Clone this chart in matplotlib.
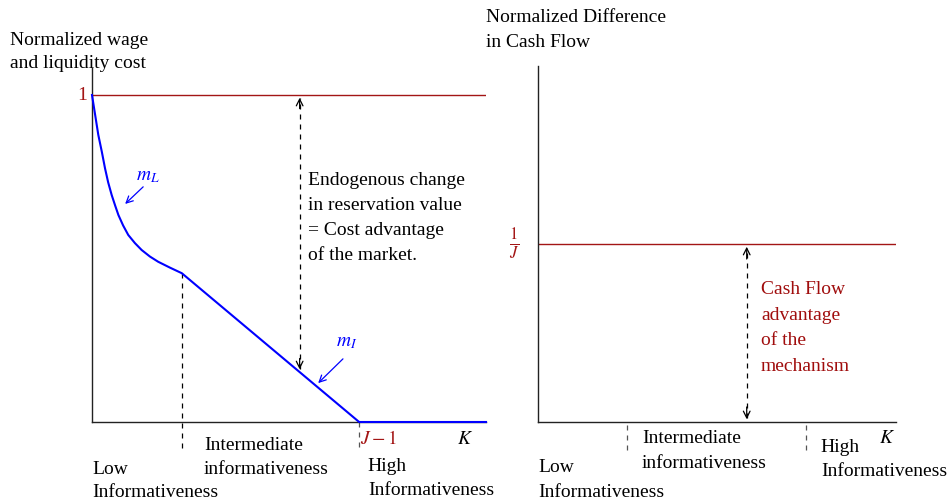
import matplotlib
matplotlib.use("Agg")
import matplotlib.pyplot as plt
from matplotlib.transforms import offset_copy

plt.rcParams['font.family'] = ['Liberation Serif', 'DejaVu Serif']
plt.rcParams['mathtext.fontset'] = 'stix'

# left panel: normalized wage / liquidity cost against K
k_curve = [0.0, 0.008, 0.016, 0.025, 0.033, 0.041, 0.050, 0.059, 0.067, 0.079, 0.092,
           0.109, 0.126, 0.147, 0.168, 0.198, 0.228, 0.678, 1.0]
cost_curve = [1.0, 0.939, 0.878, 0.826, 0.776, 0.733, 0.694, 0.661, 0.633, 0.601, 0.572,
              0.547, 0.526, 0.506, 0.490, 0.472, 0.455, 0.0, 0.0]
k_intermediate = 0.228
k_high = 0.678          # J - 1
k_arrow = 0.527
market_level = 1.0

# right panel: normalized difference in cash flow
J = 2
cash_level = 1 / J
r_ticks = [0.249, 0.749]
r_arrow = 0.583

RED = '#a31515'
BLUE = '#0000ff'
FS = 14

fig = plt.figure(figsize=(9.49, 5.01), dpi=100)
W, H = 949, 501


def box(l, t, r, b):
    return [l / W, 1 - b / H, (r - l) / W, (b - t) / H]


def lines(ax, x, y, txt, step=24, **kw):
    # one text per line so the spacing follows the reference
    for i, line in enumerate(txt.split('\n')):
        tr = offset_copy(ax.transData, fig=fig, y=-i * step, units='dots')
        ax.text(x, y, line, transform=tr, fontsize=FS, ha='left', va='center',
                clip_on=False, **kw)


def style(ax):
    for s in ['top', 'right']:
        ax.spines[s].set_visible(False)
    for s in ['left', 'bottom']:
        ax.spines[s].set_color('#222222')
        ax.spines[s].set_linewidth(1)
    ax.set_xticks([])
    ax.set_yticks([])


def double_arrow(ax, x, y0, y1):
    ax.plot([x, x], [y0 + 0.01, y1 - 0.01], 'k--', lw=0.9, dashes=(4, 4))
    ax.annotate('', xy=(x, y1), xytext=(x, y1 - 0.05),
                arrowprops=dict(arrowstyle='->', lw=0.9, color='k', mutation_scale=12))
    ax.annotate('', xy=(x, y0), xytext=(x, y0 + 0.05),
                arrowprops=dict(arrowstyle='->', lw=0.9, color='k', mutation_scale=12))


# ---------------- left ----------------
ax = fig.add_axes(box(92, 68, 486, 422))
ax.set_xlim(0, 1)
ax.set_ylim(0, 354 / 327)
style(ax)

ax.axhline(market_level, color=RED, lw=1)
ax.plot(k_curve, cost_curve, color=BLUE, lw=1.5, clip_on=False, zorder=3)

i_cost = cost_curve[k_curve.index(k_intermediate)]
ax.plot([k_intermediate, k_intermediate], [i_cost, -0.092], 'k--', lw=0.9, dashes=(4, 4), clip_on=False)
ax.plot([k_high, k_high], [0, -0.092], color='#555555', ls='--', lw=0.9, dashes=(4, 4), clip_on=False)

low = i_cost * (k_high - k_arrow) / (k_high - k_intermediate)
double_arrow(ax, k_arrow, low, market_level)

lines(ax, 0.548, 0.740, 'Endogenous change\nin reservation value\n= Cost advantage\nof the market.', step=25)

ax.text(0.142, 0.752, '$m_L$', color=BLUE, fontsize=FS, ha='center', va='center')
ax.annotate('', xy=(0.079, 0.661), xytext=(0.135, 0.725),
            arrowprops=dict(arrowstyle='->', lw=0.9, color=BLUE, mutation_scale=12))
ax.text(0.647, 0.242, '$m_I$', color=BLUE, fontsize=FS, ha='center', va='center')
ax.annotate('', xy=(0.569, 0.113), xytext=(0.642, 0.199),
            arrowprops=dict(arrowstyle='->', lw=0.9, color=BLUE, mutation_scale=12))

ax.text(-0.012, market_level, '1', color=RED, fontsize=FS, ha='right', va='center')
ax.text(0.728, -0.052, '$J-1$', color=RED, fontsize=FS, ha='center', va='center')
ax.text(0.947, -0.052, '$K$', fontsize=FS, ha='center', va='center')
lines(ax, 0.284, -0.073, 'Intermediate\ninformativeness', step=24)
lines(ax, 0.0, -0.144, 'Low\nInformativeness', step=23)
lines(ax, 0.70, -0.135, 'High\nInformativeness', step=24)
lines(ax, -0.208, 1.168, 'Normalized wage\nand liquidity cost', step=23)

# ---------------- right ----------------
ax2 = fig.add_axes(box(538, 66, 896, 422))
ax2.set_xlim(0, 1)
ax2.set_ylim(0, 1)
style(ax2)

ax2.axhline(cash_level, color=RED, lw=1)
for t in r_ticks:
    ax2.plot([t, t], [-0.008, -0.085], color='#555555', ls='--', lw=0.9, dashes=(4, 4), clip_on=False)

double_arrow(ax2, r_arrow, 0, cash_level)

lines(ax2, 0.623, 0.371, 'Cash Flow\nadvantage\nof the\nmechanism', step=25.5, color='#a00d0d')
ax2.text(-0.067, cash_level, r'$\frac{1}{J}$', color=RED, fontsize=17, ha='center', va='center')
ax2.text(0.975, -0.045, '$K$', fontsize=FS, ha='center', va='center')
lines(ax2, 0.29, -0.045, 'Intermediate\ninformativeness', step=25)
lines(ax2, 0.79, -0.073, 'High\nInformativeness', step=24)
lines(ax2, 0.0, -0.129, 'Low\nInformativeness', step=25)
lines(ax2, -0.145, 1.135, 'Normalized Difference\nin Cash Flow', step=25)

fig.savefig('out.png', dpi=100)
